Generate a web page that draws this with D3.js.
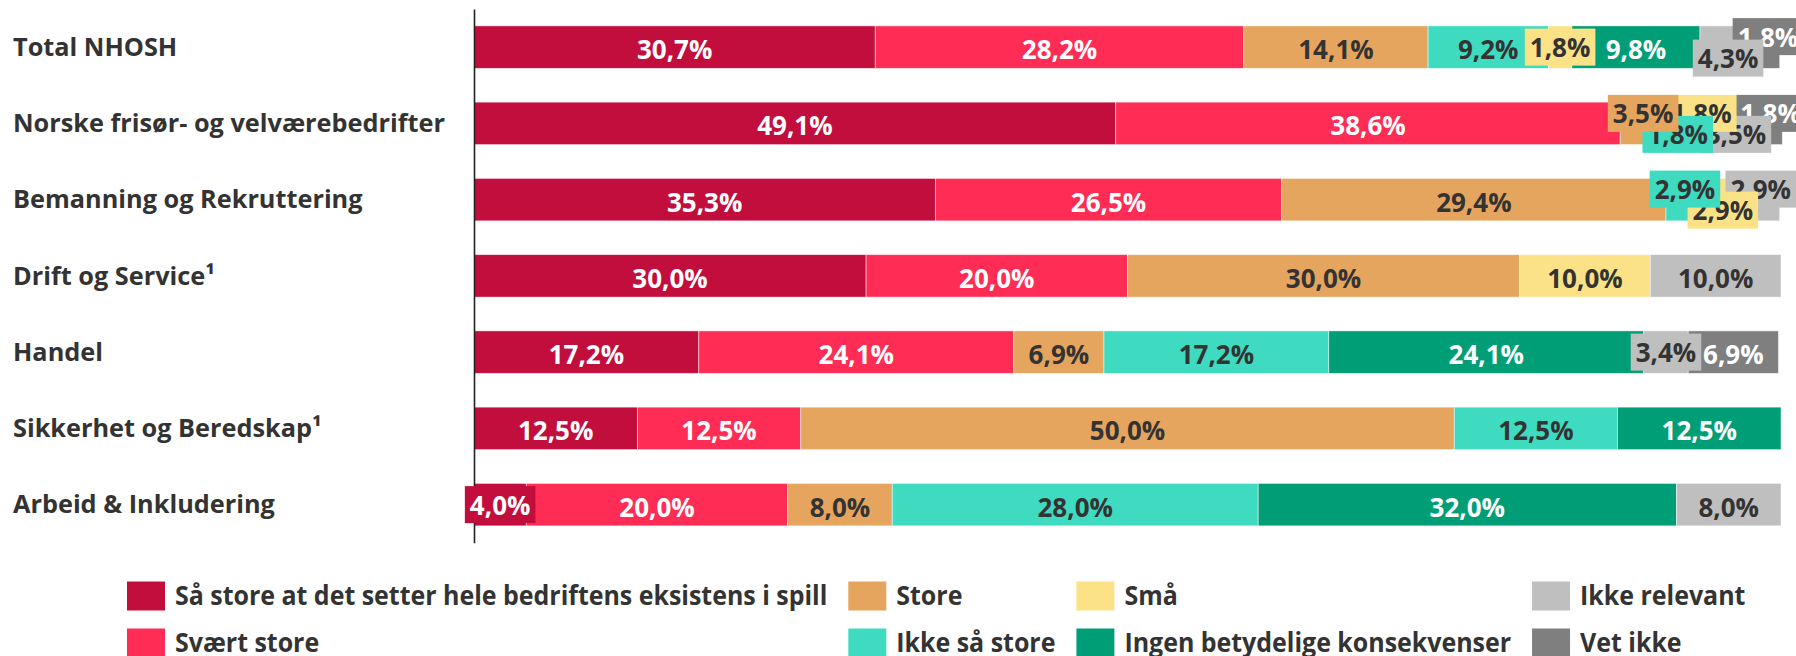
<!DOCTYPE html>
<html>
<head>
<meta charset="utf-8">
<script src="https://cdn.jsdelivr.net/npm/d3@7"></script>
<style>
  body { margin: 0; background: #fff; }
  svg text { font-family: "Open Sans", sans-serif; font-weight: 700; }
</style>
</head>
<body>
<div id="chart"></div>
<script>

// Categories (rows) and series, top to bottom / left to right
const categories = [
  "Total NHOSH",
  "Norske frisør- og velværebedrifter",
  "Bemanning og Rekruttering",
  "Drift og Service¹",
  "Handel",
  "Sikkerhet og Beredskap¹",
  "Arbeid & Inkludering"
];

const seriesNames = [
  "Så store at det setter hele bedriftens eksistens i spill",
  "Svært store",
  "Store",
  "Ikke så store",
  "Små",
  "Ingen betydelige konsekvenser",
  "Ikke relevant",
  "Vet ikke"
];

const seriesColors = ["#c20e3d", "#ff2d55", "#e5a55e", "#3edbc0", "#fce286", "#009e76", "#bfbfbf", "#7f7f7f"];
const seriesTextColors = ["#fff", "#fff", "#333", "#333", "#333", "#fff", "#333", "#fff"];

// percent per category, one array per series
const saStore      = [30.7, 49.1, 35.3, 30.0, 17.2, 12.5, 4.0];
const svaertStore  = [28.2, 38.6, 26.5, 20.0, 24.1, 12.5, 20.0];
const store        = [14.1, 3.5, 29.4, 30.0, 6.9, 50.0, 8.0];
const ikkeSaStore  = [9.2, 1.8, 2.9, 0, 17.2, 12.5, 28.0];
const sma          = [1.8, 1.8, 2.9, 10.0, 0, 0, 0];
const ingen        = [9.8, 0, 0, 0, 24.1, 12.5, 32.0];
const ikkeRelevant = [4.3, 3.5, 2.9, 10.0, 3.4, 0, 8.0];
const vetIkke      = [1.8, 1.8, 0, 0, 6.9, 0, 0];

const seriesValues = [saStore, svaertStore, store, ikkeSaStore, sma, ingen, ikkeRelevant, vetIkke];

// vertical shift of crowded data labels (row|series)
const labelNudge = {
  "0|6": 11, "0|7": -10.5,
  "1|2": -10, "1|3": 11, "1|4": -10, "1|6": 11, "1|7": -10,
  "2|3": -10.5, "2|4": 10.5, "2|6": -10.5
};

const width = 1796, height = 656;

const svg = d3.select("#chart")
  .append("svg")
  .attr("width", width)
  .attr("height", height);

const rows = categories.map((c, i) => {
  let r = { cat: c, idx: i };
  seriesNames.forEach((s, j) => r[s] = seriesValues[j][i]);
  return r;
});

const stacked = d3.stack().keys(seriesNames)(rows);

const x = d3.scaleLinear().domain([0, 100]).range([474, 1781]);
const y = d3.scaleBand()
  .domain(categories)
  .range([9, 542.75])
  .paddingInner(0.443)
  .paddingOuter(0.2215);

// bars
svg.append("g")
  .selectAll("g")
  .data(stacked)
  .join("g")
  .attr("fill", (d, i) => seriesColors[i])
  .selectAll("rect")
  .data(d => d.filter(p => p[1] - p[0] > 0))
  .join("rect")
  .attr("x", d => x(d[0]))
  .attr("y", d => y(d.data.cat))
  .attr("width", d => x(d[1]) - x(d[0]))
  .attr("height", y.bandwidth())
  .attr("stroke", "#fff")
  .attr("stroke-width", 0.8)
  .attr("stroke-opacity", 0.6);

// axis line
svg.append("g")
  .attr("transform", "translate(474,0)")
  .call(d3.axisLeft(y).tickSize(0).tickFormat(""))
  .call(g => g.select(".domain").attr("stroke", "#222").attr("stroke-width", 1.6));

// category labels
svg.append("g")
  .selectAll("text")
  .data(categories)
  .join("text")
  .attr("x", 13)
  .attr("y", d => y(d) + y.bandwidth() / 2)
  .attr("dy", "0.35em")
  .attr("fill", "#333")
  .style("font-size", "25.3px")
  .text(d => d);

// data labels, last series first so earlier ones sit on top
const labelLayer = svg.append("g");
const fmt = v => v.toFixed(1).replace(".", ",") + "%";

for (let j = seriesNames.length - 1; j >= 0; j--) {
  stacked[j].forEach(p => {
    const v = p[1] - p[0];
    if (v <= 0) return;
    const i = p.data.idx;
    const cx = x((p[0] + p[1]) / 2);
    const cy = y(p.data.cat) + y.bandwidth() / 2 + (labelNudge[i + "|" + j] || 0);
    const segW = x(p[1]) - x(p[0]);
    const g = labelLayer.append("g").attr("transform", `translate(${cx},${cy})`);
    const box = g.append("rect");
    const t = g.append("text")
      .attr("text-anchor", "middle")
      .attr("dy", "0.36em")
      .attr("fill", seriesTextColors[j])
      .style("font-size", "26px")
      .text(fmt(seriesValues[j][i]));
    const tw = t.node().getComputedTextLength();
    if (tw + 10 > segW) {
      box.attr("x", -(tw + 10) / 2)
        .attr("y", -18.5)
        .attr("width", tw + 10)
        .attr("height", 37)
        .attr("fill", seriesColors[j]);
      t.attr("y", 0.5);
    } else {
      box.remove();
      t.attr("y", 2.5);
    }
  });
}

// legend, two rows, filled column by column
const legendRowY = [596, 643];
const squish = 0.96;
const legend = svg.append("g");
let colX = 127;
for (let c = 0; c < Math.ceil(seriesNames.length / 2); c++) {
  let maxW = 0;
  for (let r = 0; r < 2; r++) {
    const k = c * 2 + r;
    if (k >= seriesNames.length) break;
    const item = legend.append("g").attr("transform", `translate(${colX},${legendRowY[r]})`);
    item.append("rect")
      .attr("y", -14.5)
      .attr("width", 38)
      .attr("height", 29)
      .attr("fill", seriesColors[k]);
    const t = item.append("g").attr("transform", "translate(48,0)")
      .append("text")
      .attr("transform", `scale(${squish},1)`)
      .attr("dy", "0.36em")
      .attr("fill", "#333")
      .style("font-size", "26px")
      .text(seriesNames[k]);
    maxW = Math.max(maxW, t.node().getComputedTextLength() * squish);
  }
  colX += 48 + maxW + 21;
}

</script>
</body>
</html>
